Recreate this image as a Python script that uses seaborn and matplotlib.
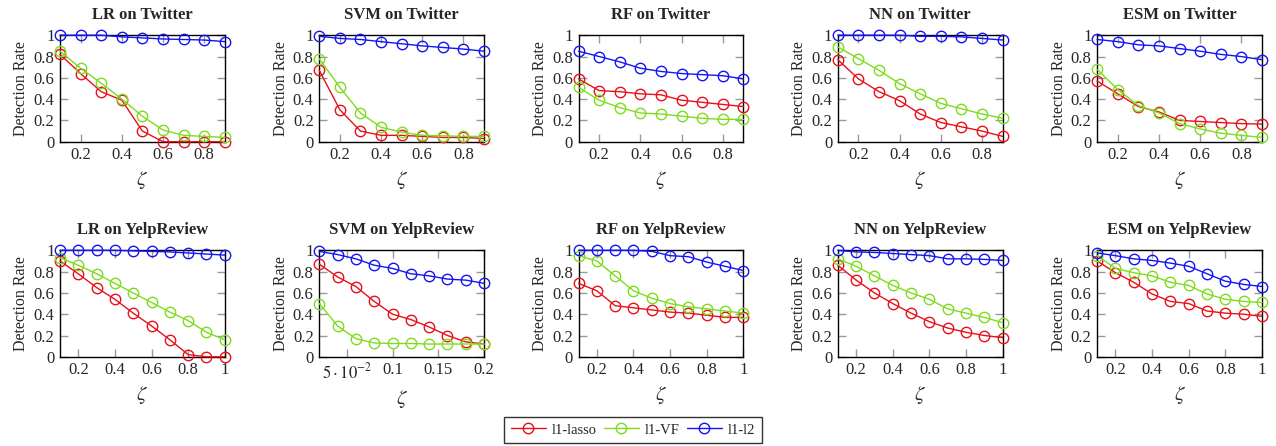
import numpy as np
import pandas as pd
import seaborn as sns
import matplotlib.pyplot as plt
from matplotlib.lines import Line2D

sns.set_style("ticks")
plt.rcParams['font.family'] = ['Liberation Serif', 'DejaVu Serif']
plt.rcParams['mathtext.fontset'] = 'stix'

models = ["LR", "SVM", "RF", "NN", "ESM"]
datasets = ["Twitter", "YelpReview"]
methods = ["l1-lasso", "l1-VF", "l1-l2"]
colors = ["#e8101a", "#7fdc1e", "#1414f5"]

zeta_twitter = [0.1, 0.2, 0.3, 0.4, 0.5, 0.6, 0.7, 0.8, 0.9]
zeta_yelp = [0.1, 0.2, 0.3, 0.4, 0.5, 0.6, 0.7, 0.8, 0.9, 1.0]
zeta_svm_yelp = [0.02, 0.04, 0.06, 0.08, 0.10, 0.12, 0.14, 0.16, 0.18, 0.20]

# detection rates
lasso_twitter = {
    "LR":  [0.82, 0.64, 0.47, 0.39, 0.10, 0.0, 0.0, 0.0, 0.0],
    "SVM": [0.67, 0.30, 0.10, 0.06, 0.06, 0.05, 0.04, 0.04, 0.03],
    "RF":  [0.59, 0.48, 0.47, 0.45, 0.44, 0.39, 0.37, 0.35, 0.33],
    "NN":  [0.77, 0.59, 0.47, 0.385, 0.26, 0.18, 0.14, 0.10, 0.05],
    "ESM": [0.57, 0.45, 0.33, 0.28, 0.20, 0.19, 0.18, 0.17, 0.165],
}
vf_twitter = {
    "LR":  [0.85, 0.69, 0.55, 0.40, 0.24, 0.11, 0.06, 0.05, 0.04],
    "SVM": [0.78, 0.51, 0.27, 0.135, 0.09, 0.06, 0.055, 0.05, 0.05],
    "RF":  [0.51, 0.39, 0.32, 0.27, 0.26, 0.24, 0.22, 0.21, 0.21],
    "NN":  [0.89, 0.78, 0.67, 0.545, 0.45, 0.36, 0.31, 0.26, 0.22],
    "ESM": [0.68, 0.49, 0.34, 0.27, 0.17, 0.12, 0.08, 0.06, 0.04],
}
l2_twitter = {
    "LR":  [1.0, 1.0, 1.0, 0.985, 0.975, 0.965, 0.96, 0.955, 0.94],
    "SVM": [0.99, 0.97, 0.96, 0.94, 0.92, 0.90, 0.885, 0.87, 0.85],
    "RF":  [0.85, 0.80, 0.75, 0.69, 0.66, 0.64, 0.63, 0.62, 0.59],
    "NN":  [1.0, 1.0, 1.0, 1.0, 0.99, 0.99, 0.985, 0.97, 0.955],
    "ESM": [0.96, 0.94, 0.91, 0.90, 0.875, 0.85, 0.82, 0.80, 0.77],
}
lasso_yelp = {
    "LR":  [0.90, 0.78, 0.65, 0.54, 0.41, 0.29, 0.16, 0.02, 0.0, 0.0],
    "SVM": [0.87, 0.75, 0.66, 0.52, 0.40, 0.35, 0.28, 0.20, 0.14, 0.12],
    "RF":  [0.69, 0.62, 0.48, 0.46, 0.44, 0.42, 0.41, 0.39, 0.37, 0.37],
    "NN":  [0.86, 0.72, 0.60, 0.50, 0.41, 0.33, 0.27, 0.23, 0.20, 0.18],
    "ESM": [0.90, 0.79, 0.70, 0.59, 0.52, 0.50, 0.43, 0.41, 0.40, 0.38],
}
vf_yelp = {
    "LR":  [0.93, 0.86, 0.78, 0.69, 0.60, 0.51, 0.42, 0.34, 0.23, 0.16],
    "SVM": [0.50, 0.29, 0.17, 0.13, 0.125, 0.125, 0.12, 0.12, 0.12, 0.12],
    "RF":  [0.95, 0.90, 0.76, 0.62, 0.55, 0.50, 0.47, 0.45, 0.43, 0.41],
    "NN":  [0.92, 0.85, 0.76, 0.67, 0.60, 0.54, 0.45, 0.41, 0.37, 0.32],
    "ESM": [0.95, 0.83, 0.79, 0.76, 0.70, 0.67, 0.59, 0.54, 0.52, 0.51],
}
l2_yelp = {
    "LR":  [1.0, 1.0, 1.0, 1.0, 0.995, 0.99, 0.985, 0.975, 0.965, 0.955],
    "SVM": [0.99, 0.96, 0.92, 0.86, 0.83, 0.78, 0.76, 0.73, 0.72, 0.69],
    "RF":  [1.0, 1.0, 1.0, 1.0, 0.99, 0.95, 0.94, 0.89, 0.85, 0.81],
    "NN":  [1.0, 0.985, 0.98, 0.97, 0.96, 0.95, 0.92, 0.92, 0.915, 0.905],
    "ESM": [0.975, 0.95, 0.92, 0.905, 0.88, 0.85, 0.78, 0.71, 0.68, 0.66],
}

series = {
    "Twitter": [lasso_twitter, vf_twitter, l2_twitter],
    "YelpReview": [lasso_yelp, vf_yelp, l2_yelp],
}

fig, axes = plt.subplots(2, 5, figsize=(12.76, 4.46), dpi=100)
plt.subplots_adjust(left=0.047, right=0.989, top=0.921, bottom=0.2,
                    wspace=0.573, hspace=1.02)

for r, ds in enumerate(datasets):
    for c, model in enumerate(models):
        ax = axes[r, c]
        if ds == "Twitter":
            xs = zeta_twitter
        elif model == "SVM":
            xs = zeta_svm_yelp
        else:
            xs = zeta_yelp
        for m, col, vals in zip(methods, colors, series[ds]):
            df = pd.DataFrame({"zeta": xs, "rate": vals[model]})
            sns.lineplot(data=df, x="zeta", y="rate", ax=ax, color=col,
                         marker="o", markersize=7.5, markerfacecolor="none",
                         markeredgecolor=col, markeredgewidth=1.0,
                         linewidth=1.0, clip_on=False, legend=False, zorder=3)
        ax.set_xlim(xs[0], xs[-1])
        ax.set_ylim(0, 1)
        ax.set_yticks([0, 0.2, 0.4, 0.6, 0.8, 1.0])
        ax.set_yticklabels(["0", "0.2", "0.4", "0.6", "0.8", "1"])
        if ds == "Twitter":
            ax.set_xticks([0.2, 0.4, 0.6, 0.8])
            ax.set_xticklabels(["0.2", "0.4", "0.6", "0.8"])
        elif model == "SVM":
            ax.set_xticks([0.05, 0.1, 0.15, 0.2])
            ax.set_xticklabels([r"$5\cdot10^{-2}$", "0.1", "0.15", "0.2"])
        else:
            ax.set_xticks([0.2, 0.4, 0.6, 0.8, 1.0])
            ax.set_xticklabels(["0.2", "0.4", "0.6", "0.8", "1"])
        ax.tick_params(direction="in", length=6, width=1, color="#9a9a9a",
                       top=True, right=True, labelsize=12, pad=4)
        for s in ax.spines.values():
            s.set_color("black")
            s.set_linewidth(1.0)
        ax.set_title(f"{model} on {ds}", fontsize=12, fontweight="bold", pad=12)
        ax.set_ylabel("Detection Rate", fontsize=11.5, labelpad=3)
        ax.set_xlabel(r"$\zeta$", fontsize=15, labelpad=4)

handles = [Line2D([], [], color=col, marker="o", markersize=7.5,
                  markerfacecolor="none", markeredgecolor=col, linewidth=1.0)
           for col in colors]
fig.legend(handles, methods, loc="center", bbox_to_anchor=(0.496, 0.036),
           ncol=3, fontsize=10.5, frameon=True, fancybox=False,
           edgecolor="black", handlelength=2.4, columnspacing=0.5,
           handletextpad=0.4, borderpad=0.45)
leg = fig.legends[0]
leg.get_frame().set_linewidth(1.0)

fig.savefig("out.png", dpi=100)
